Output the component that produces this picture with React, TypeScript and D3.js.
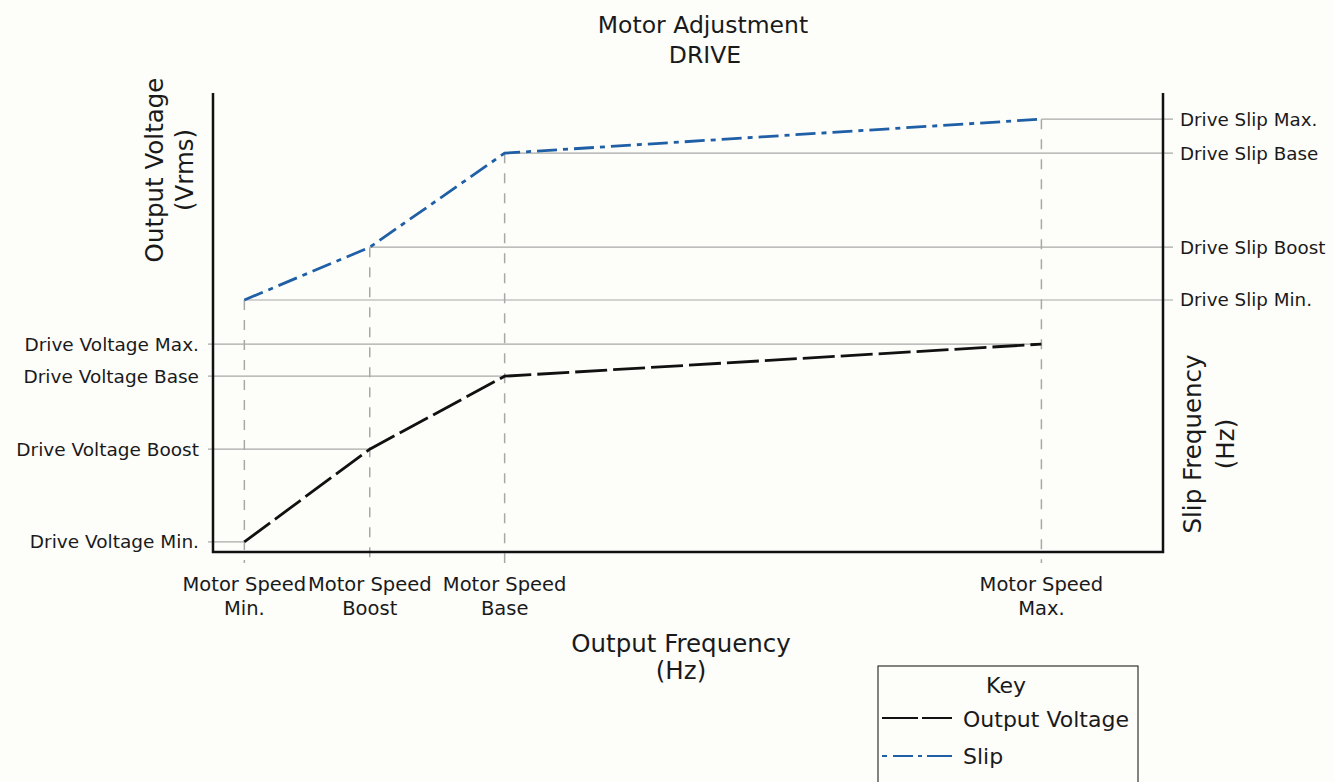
import React from 'react';
import * as d3 from 'd3';

// speed points along the output frequency axis
const speedNames = ['Min.', 'Boost', 'Base', 'Max.'];
const speedValues = [3.3, 16.5, 30.7, 87.2];
const voltageValues = [2.2, 22.4, 38.3, 45.3];
const slipValues = [54.9, 66.4, 86.9, 94.3];

const voltageLabels = ['Drive Voltage Min.', 'Drive Voltage Boost', 'Drive Voltage Base', 'Drive Voltage Max.'];
const slipLabels = ['Drive Slip Min.', 'Drive Slip Boost', 'Drive Slip Base', 'Drive Slip Max.'];

const W = 1334;
const H = 782;
const margin = { top: 93, right: 171, bottom: 230, left: 213 };
const FONT = '"DejaVu Sans", sans-serif';
const BLUE = '#1f5fa6';
const GRID = '#a8a8a8';
const INK = '#1a1a1a';

const App: React.FC = () => {
  const x0 = margin.left;
  const x1 = W - margin.right;
  const y0 = H - margin.bottom;
  const y1 = margin.top;

  const x = d3.scaleLinear().domain([0, 100]).range([x0, x1]);
  const yV = d3.scaleLinear().domain([0, 100]).range([y0, y1]);
  const yS = d3.scaleLinear().domain([0, 100]).range([y0, y1]);

  const vPts = speedValues.map((s, i) => [s, voltageValues[i]] as [number, number]);
  const sPts = speedValues.map((s, i) => [s, slipValues[i]] as [number, number]);

  const vLine = d3.line<[number, number]>().x(d => x(d[0])).y(d => yV(d[1]))(vPts) || '';
  const sLine = d3.line<[number, number]>().x(d => x(d[0])).y(d => yS(d[1]))(sPts) || '';

  return (
    <svg width={W} height={H} style={{ position: 'absolute', left: 0, top: 0, background: '#fdfdfa' }} fontFamily={FONT}>
      <rect width={W} height={H} fill="#fdfdfa" />

      {/* title */}
      <text x={703} y={33} textAnchor="middle" fontSize={23.5} fill={INK}>Motor Adjustment</text>
      <text x={705} y={63} textAnchor="middle" fontSize={23.5} fill={INK}>DRIVE</text>

      {/* voltage gridlines */}
      {voltageValues.map((v, i) => (
        <line key={'vg' + i} x1={x0 - 5} x2={x(speedValues[i])} y1={yV(v)} y2={yV(v)} stroke={GRID} strokeWidth={1.2} />
      ))}
      {/* slip gridlines */}
      {slipValues.map((v, i) => (
        <line key={'sg' + i} x1={x(speedValues[i])} x2={x1 + 10} y1={yS(v)} y2={yS(v)} stroke={GRID} strokeWidth={1.2} />
      ))}
      {/* speed dashed verticals */}
      {speedValues.map((s, i) => (
        <line key={'vd' + i} x1={x(s)} x2={x(s)} y1={yS(slipValues[i])} y2={y0 + 11}
          stroke={GRID} strokeWidth={1.5} strokeDasharray="10 10" />
      ))}

      {/* axes */}
      <path d={`M${x0},${y1}V${y0}H${x1}V${y1}`} fill="none" stroke="#111" strokeWidth={2.5} />

      {/* series */}
      <path d={vLine} fill="none" stroke="#111" strokeWidth={2.8} strokeDasharray="32 6" />
      <path d={sLine} fill="none" stroke={BLUE} strokeWidth={2.8} strokeDasharray="20 6 5 6" />

      {/* left labels */}
      {voltageLabels.map((t, i) => (
        <text key={'vl' + i} x={199} y={yV(voltageValues[i])} dy="0.35em" textAnchor="end" fontSize={18.5} fill={INK}>{t}</text>
      ))}
      {/* right labels */}
      {slipLabels.map((t, i) => (
        <text key={'sl' + i} x={1180} y={yS(slipValues[i])} dy="0.35em" fontSize={18.3} fill={INK}>{t}</text>
      ))}

      {/* x tick labels */}
      {speedNames.map((n, i) => (
        <g key={'xl' + i} transform={`translate(${x(speedValues[i])},0)`}>
          <text y={591} textAnchor="middle" fontSize={19.5} fill={INK}>Motor Speed</text>
          <text y={615} textAnchor="middle" fontSize={19.5} fill={INK}>{n}</text>
        </g>
      ))}

      {/* axis titles */}
      <text x={681} y={652} textAnchor="middle" fontSize={24.5} fill={INK}>Output Frequency</text>
      <text x={681} y={679} textAnchor="middle" fontSize={24.5} fill={INK}>(Hz)</text>

      <g transform="translate(154,170) rotate(-90)">
        <text textAnchor="middle" fontSize={24.5} fill={INK} dy="0.35em">Output Voltage</text>
        <text textAnchor="middle" fontSize={24.5} fill={INK} y={30} dy="0.35em">(Vrms)</text>
      </g>
      <g transform="translate(1192,444) rotate(-90)">
        <text textAnchor="middle" fontSize={24.5} fill={INK} dy="0.35em">Slip Frequency</text>
        <text textAnchor="middle" fontSize={24.5} fill={INK} y={33} dy="0.35em">(Hz)</text>
      </g>

      {/* key */}
      <g>
        <rect x={878} y={666} width={260} height={120} fill="none" stroke="#333" strokeWidth={1.2} />
        <text x={1006} y={693} textAnchor="middle" fontSize={22} fill={INK}>Key</text>
        <line x1={882} x2={952} y1={718} y2={718} stroke="#111" strokeWidth={2.2} strokeDasharray="36 4" />
        <text x={963} y={727} fontSize={22} fill={INK}>Output Voltage</text>
        <line x1={882} x2={952} y1={756} y2={756} stroke={BLUE} strokeWidth={2.2} strokeDasharray="5 6 20 5 4 5 25" />
        <text x={963} y={764} fontSize={22} fill={INK}>Slip</text>
      </g>
    </svg>
  );
};

export default App;
